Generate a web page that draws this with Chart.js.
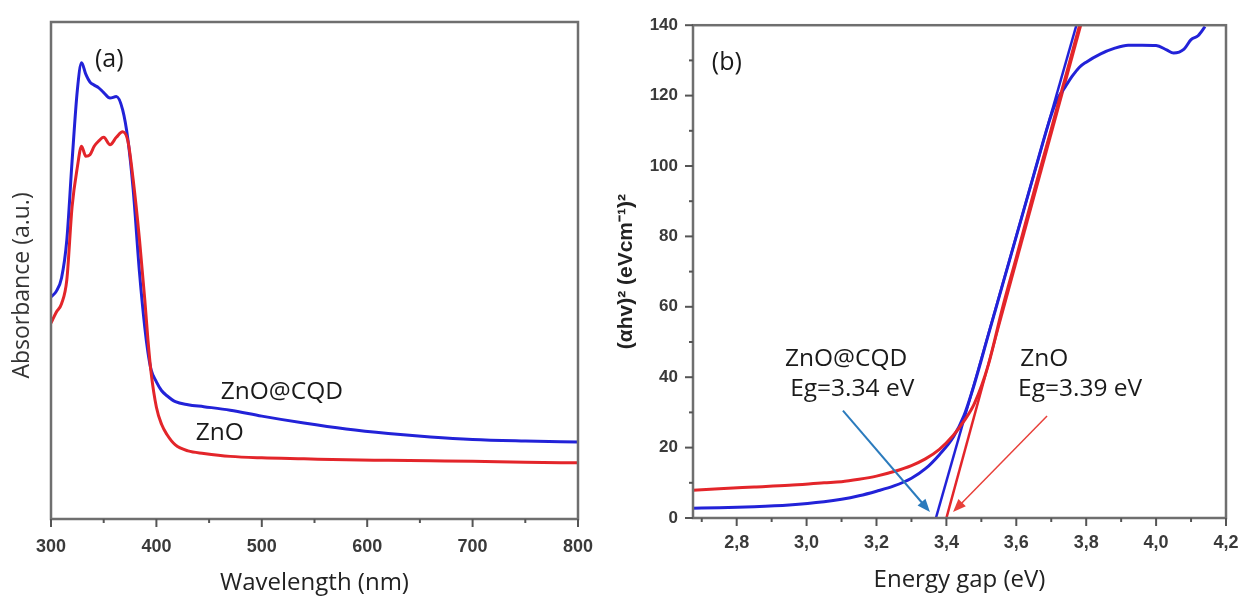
<!DOCTYPE html>
<html>
<head>
<meta charset="utf-8">
<script src="https://cdn.jsdelivr.net/npm/chart.js@4.4.0/dist/chart.umd.min.js"></script>
<style>
  body { margin: 0; background: #fff; }
  #wrap { position: relative; width: 1244px; height: 599px; }
  canvas { position: absolute; top: 0; }
  #chartA { left: 0; }
  #chartB { left: 600px; }
</style>
</head>
<body>
<div id="wrap">
  <canvas id="chartA" width="600" height="599"></canvas>
  <canvas id="chartB" width="644" height="599"></canvas>
</div>
<script>
// ---- (a) absorbance spectra ----
const wavelength = [300, 305, 310, 315, 320, 325, 329, 333, 337, 341, 345, 350, 356, 362, 368, 373, 378, 384,
                    389, 392, 395, 400, 405, 410, 418, 430, 445, 470, 500, 540, 580, 620, 660, 700, 750, 800];
const absZnO = [39.4, 41.6, 43.3, 48.1, 62.8, 70.8, 75.0, 73.0, 73.3, 75.0, 76.0, 76.8, 75.3, 76.8, 77.9, 76.0, 68.2, 56.1,
                44.1, 36.0, 29.4, 22.5, 19.0, 17.0, 14.9, 13.7, 13.2, 12.6, 12.3, 12.1, 11.9, 11.8, 11.7, 11.6, 11.4, 11.3];
const absZnOCQD = [44.7, 45.8, 48.5, 56.1, 72.0, 86.3, 91.8, 89.5, 87.9, 87.3, 86.8, 85.8, 84.7, 85.0, 82.3, 76.3, 66.2, 49.5,
                   38.5, 33.5, 30.0, 27.6, 25.8, 24.8, 23.6, 23.0, 22.6, 21.9, 20.7, 19.3, 18.1, 17.2, 16.5, 16.0, 15.7, 15.5];
const wavelengthTicks = [300, 400, 500, 600, 700, 800];
const wavelengthMinor = [350, 450, 550, 650, 750];

// ---- (b) Tauc plot ----
const energy = [2.675, 2.75, 2.85, 2.95, 3.05, 3.10, 3.15, 3.20, 3.25, 3.30, 3.34, 3.38, 3.42, 3.45, 3.48, 3.52, 3.56, 3.60,
                3.65, 3.70, 3.72, 3.74, 3.76, 3.78, 3.80, 3.84, 3.88, 3.92, 3.96, 4.00, 4.03, 4.05, 4.08, 4.10, 4.12, 4.14];
const taucZnO = [7.9, 8.3, 8.8, 9.3, 10.0, 10.3, 11.0, 11.9, 13.2, 14.9, 16.8, 19.5, 23.5, 27.5, 32.5, 43.5, 59.5, 74.0,
                 92.5, 110.5, 117.8, 125.0, 132.3, 139.6, 147.0, null, null, null, null, null, null, null, null, null, null, null];
const taucZnOCQD = [2.8, 2.9, 3.2, 3.7, 4.6, 5.3, 6.3, 7.6, 9.1, 11.3, 14.0, 18.0, 23.0, 29.0, 38.0, 52.0, 66.0, 80.0,
                    97.5, 114.5, 119.5, 122.5, 125.5, 128.0, 129.5, 131.8, 133.4, 134.3, 134.3, 134.2, 133.0, 132.1, 133.2, 135.9, 137.0, 139.6];
// straight-line extrapolations to the energy axis
const fitZnOEnergy = [3.40, 3.785];
const fitCQDEnergy = [3.37, 3.772];
const fitValue = [0, 140];
const energyTicks = [2.8, 3.0, 3.2, 3.4, 3.6, 3.8, 4.0, 4.2];
const energyTickLabels = ['2,8', '3,0', '3,2', '3,4', '3,6', '3,8', '4,0', '4,2'];
const energyMinor = [2.7, 2.9, 3.1, 3.3, 3.5, 3.7, 3.9, 4.1];
const taucTicks = [0, 20, 40, 60, 80, 100, 120, 140];
const taucMinor = [10, 30, 50, 70, 90, 110, 130];

const RED = '#e3252a';
const BLUE = '#2222d8';

const pts = (xs, ys) => xs.map((x, i) => ({ x: x, y: ys[i] }));

// frame round the plot area plus tick marks (major + minor)
const framePlugin = {
  id: 'frame',
  afterDraw(chart, args, opts) {
    const { ctx, chartArea: a, scales } = chart;
    ctx.save();
    ctx.strokeStyle = '#6f6f6f';
    ctx.lineWidth = 2.5;
    ctx.strokeRect(a.left, a.top, a.right - a.left, a.bottom - a.top);
    ctx.strokeStyle = '#555';
    ctx.lineWidth = 2;
    const xt = (vals, len) => vals.forEach(v => {
      const px = scales.x.getPixelForValue(v);
      ctx.beginPath(); ctx.moveTo(px, a.bottom); ctx.lineTo(px, a.bottom + len); ctx.stroke();
    });
    const yt = (vals, len) => vals.forEach(v => {
      const py = scales.y.getPixelForValue(v);
      ctx.beginPath(); ctx.moveTo(a.left, py); ctx.lineTo(a.left - len, py); ctx.stroke();
    });
    xt(opts.xMajor || [], 8);
    xt(opts.xMinor || [], 4);
    yt(opts.yMajor || [], 8);
    yt(opts.yMinor || [], 4);
    ctx.restore();
  }
};

// text labels and arrows placed in data units
const notesPlugin = {
  id: 'notes',
  afterDatasetsDraw(chart, args, opts) {
    const { ctx, scales } = chart;
    ctx.save();
    (opts.texts || []).forEach(t => {
      ctx.font = t.font || '24.5px "Open Sans"';
      ctx.fillStyle = '#1a1a1a';
      ctx.textAlign = 'left';
      ctx.textBaseline = 'middle';
      ctx.fillText(t.text, scales.x.getPixelForValue(t.x), scales.y.getPixelForValue(t.y));
    });
    (opts.arrows || []).forEach(ar => {
      const x0 = scales.x.getPixelForValue(ar.from[0]), y0 = scales.y.getPixelForValue(ar.from[1]);
      const x1 = scales.x.getPixelForValue(ar.to[0]), y1 = scales.y.getPixelForValue(ar.to[1]);
      const ang = Math.atan2(y1 - y0, x1 - x0);
      const hl = 14;
      ctx.strokeStyle = ar.color; ctx.fillStyle = ar.color; ctx.lineWidth = ar.width;
      ctx.beginPath(); ctx.moveTo(x0, y0);
      ctx.lineTo(x1 - Math.cos(ang) * hl * 0.8, y1 - Math.sin(ang) * hl * 0.8); ctx.stroke();
      ctx.beginPath(); ctx.moveTo(x1, y1);
      ctx.lineTo(x1 - hl * Math.cos(ang - 0.38), y1 - hl * Math.sin(ang - 0.38));
      ctx.lineTo(x1 - hl * Math.cos(ang + 0.38), y1 - hl * Math.sin(ang + 0.38));
      ctx.closePath(); ctx.fill();
    });
    ctx.restore();
  }
};

const tickFont = { family: 'Liberation Sans', size: 18, weight: 'bold' };
const titleFont = { family: 'Open Sans', size: 24 };
const lineSet = (label, data, color, width) => ({
  label: label, data: data, showLine: true, borderColor: color, backgroundColor: color,
  borderWidth: width, pointRadius: 0, cubicInterpolationMode: 'monotone', spanGaps: false
});
// fix the bottom axis box and stop tick labels from pushing the plot edges in
const bottomFit = h => s => { s.height = h; s.paddingLeft = 0; s.paddingRight = 0; };

// (a)
new Chart(document.getElementById('chartA'), {
  type: 'scatter',
  data: {
    datasets: [
      lineSet('ZnO', pts(wavelength, absZnO), RED, 3),
      lineSet('ZnO@CQD', pts(wavelength, absZnOCQD), BLUE, 3)
    ]
  },
  options: {
    responsive: false, animation: false,
    layout: { padding: { top: 22, right: 22, left: 0, bottom: 0 } },
    plugins: {
      legend: { display: false }, tooltip: { enabled: false },
      frame: { xMajor: wavelengthTicks, xMinor: wavelengthMinor },
      notes: {
        texts: [
          { text: '(a)', x: 341.7, y: 92.4, font: '25px "Open Sans"' },
          { text: 'ZnO@CQD', x: 461, y: 25.6 },
          { text: 'ZnO', x: 437.4, y: 17.3 }
        ]
      }
    },
    scales: {
      x: {
        type: 'linear', min: 300, max: 800,
        afterBuildTicks: s => { s.ticks = wavelengthTicks.map(v => ({ value: v })); },
        afterFit: bottomFit(80),
        grid: { display: false, drawTicks: false }, border: { display: false },
        ticks: { padding: 17, font: tickFont, color: '#3a3a3a', maxRotation: 0 },
        title: { display: true, text: 'Wavelength (nm)', font: titleFont, color: '#222', padding: { top: 0, bottom: 1 } }
      },
      y: {
        min: 0, max: 100,
        afterFit: s => { s.width = 51; },
        ticks: { display: false },
        grid: { display: false, drawTicks: false }, border: { display: false },
        title: {
          display: true, text: 'Absorbance (a.u.)\u00A0\u00A0\u00A0\u00A0\u00A0',
          font: { family: 'Open Sans', size: 23 }, color: '#333', padding: { top: 9, bottom: 0 }
        }
      }
    }
  },
  plugins: [framePlugin, notesPlugin]
});

// (b)
new Chart(document.getElementById('chartB'), {
  type: 'scatter',
  data: {
    datasets: [
      lineSet('ZnO', pts(energy, taucZnO), RED, 3),
      lineSet('ZnO@CQD', pts(energy, taucZnOCQD), BLUE, 3),
      lineSet('ZnO fit', pts(fitZnOEnergy, fitValue), RED, 2.5),
      lineSet('ZnO@CQD fit', pts(fitCQDEnergy, fitValue), BLUE, 2.5)
    ]
  },
  options: {
    responsive: false, animation: false,
    layout: { padding: { top: 22, right: 18, left: 0, bottom: 0 } },
    plugins: {
      legend: { display: false }, tooltip: { enabled: false },
      frame: { xMajor: energyTicks, xMinor: energyMinor, yMajor: taucTicks, yMinor: taucMinor },
      notes: {
        texts: [
          { text: '(b)', x: 2.729, y: 129.3, font: '25px "Open Sans"' },
          { text: 'ZnO@CQD', x: 2.938, y: 45.2 },
          { text: 'Eg=3.34 eV', x: 2.953, y: 36.7 },
          { text: 'ZnO', x: 3.611, y: 45.2 },
          { text: 'Eg=3.39 eV', x: 3.605, y: 36.7 }
        ],
        arrows: [
          { from: [3.104, 30.5], to: [3.353, 1.7], color: '#2b7bbd', width: 2 },
          { from: [3.688, 29], to: [3.419, 1.7], color: '#e8403a', width: 1.5 }
        ]
      }
    },
    scales: {
      x: {
        type: 'linear', min: 2.675, max: 4.2,
        afterBuildTicks: s => { s.ticks = energyTicks.map(v => ({ value: v })); },
        afterFit: bottomFit(81),
        grid: { display: false, drawTicks: false }, border: { display: false },
        ticks: {
          padding: 14, font: tickFont, color: '#3a3a3a', maxRotation: 0,
          callback: (v) => energyTickLabels[energyTicks.findIndex(t => Math.abs(t - v) < 1e-6)]
        },
        title: { display: true, text: 'Energy gap (eV)', font: titleFont, color: '#222', padding: { top: 0, bottom: 4 } }
      },
      y: {
        min: 0, max: 140,
        afterBuildTicks: s => { s.ticks = taucTicks.map(v => ({ value: v })); },
        afterFit: s => { s.width = 93; },
        grid: { display: false, drawTicks: false }, border: { display: false },
        ticks: { padding: 15, font: { family: 'Liberation Sans', size: 17, weight: 'bold' }, color: '#3a3a3a' },
        title: {
          display: true, text: '(\u03B1hv)\u00B2 (eVcm\u207B\u00B9)\u00B2',
          font: { family: 'Liberation Sans', size: 21, weight: 'bold' }, color: '#222', padding: { top: 14, bottom: 0 }
        }
      }
    }
  },
  plugins: [framePlugin, notesPlugin]
});
</script>
</body>
</html>
